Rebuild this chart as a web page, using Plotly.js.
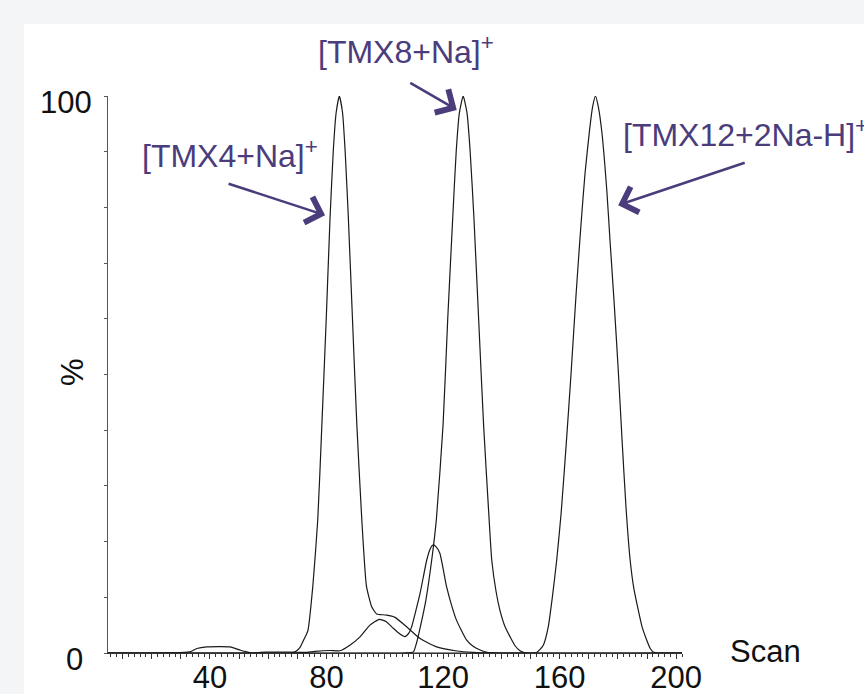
<!DOCTYPE html>
<html>
<head>
<meta charset="utf-8">
<script src="https://cdn.plot.ly/plotly-3.0.1.min.js"></script>
<style>
  html, body { margin: 0; padding: 0; background: #f4f5f7; }
  #chart { width: 864px; height: 694px; }
</style>
</head>
<body>
<div id="chart"></div>
<script>
// ---- data (Scan vs %) ----
const tmx4Scan = [5, 33.1, 35.5, 38.9, 46.9, 50.5, 52.6, 54.0, 67.5, 69.5, 70.9, 72.3, 73.6, 75.3, 77.0, 78.4, 79.9, 81.2, 82.3, 83.3, 84.4, 85.5, 86.4, 87.5, 88.9, 90.4, 92.1, 93.7, 95.5, 97.2, 98.3, 100.6, 103.5, 107.5, 112.1, 117.8, 124.7, 130.3, 136.0, 202];
const tmx4Pct  = [0, 0.2, 0.8, 1.1, 1.1, 0.5, 0.2, 0, 0, 0.3, 1, 2.5, 4, 12, 24, 41, 60, 78, 90, 97, 100, 97, 90, 78, 60, 41, 24, 12, 8.3, 7.0, 6.9, 6.8, 6.4, 4.7, 2.6, 1.1, 0.36, 0.1, 0, 0];

const minorScan = [5, 53.7, 58.9, 67.5, 72.6, 76.0, 81.2, 84.6, 88.0, 91.5, 94.9, 98.1, 100.4, 102.9, 105.2, 106.9, 108.3, 109.2, 110.7, 112.1, 114.4, 115.5, 116.6, 117.7, 118.9, 121.2, 122.9, 124.6, 128.1, 130.3, 132.7, 135.1, 139.5, 202];
const minorPct  = [0, 0, 0.15, 0.15, 0.1, 0.3, 0.45, 0.4, 1.4, 2.9, 5.0, 6.05, 5.65, 4.43, 3.4, 2.93, 3.6, 4.7, 7.7, 10.7, 16.7, 18.6, 19.4, 19.0, 17.9, 11.9, 8.6, 5.9, 2.3, 1.2, 0.54, 0.1, 0, 0];

const tmx8Scan = [5, 106.9, 109.8, 110.9, 112.7, 114.1, 116.1, 117.7, 120.0, 121.6, 123.3, 124.5, 125.6, 126.9, 128.2, 129.3, 130.6, 132.2, 133.9, 135.8, 136.7, 138.2, 139.5, 141.2, 143.0, 144.7, 146.4, 148.5, 202];
const tmx8Pct  = [0, 0, 0.2, 1.8, 5.9, 9.5, 16.7, 24, 41, 60, 78, 90, 97, 100, 97, 90, 78, 60, 41, 24, 16.7, 11, 7.7, 4.8, 2.9, 1.3, 0.4, 0, 0];

const tmx12Scan = [5, 149.8, 152.1, 153.2, 154.4, 156.1, 157.5, 159.0, 160.5, 162.2, 163.9, 165.6, 167.2, 168.7, 170.3, 171.3, 172.3, 173.3, 174.5, 176.2, 177.3, 178.7, 180.1, 181.4, 182.8, 184.2, 185.5, 187.0, 188.4, 189.9, 191.0, 192.1, 193.7, 202];
const tmx12Pct  = [0, 0, 0.1, 0.6, 1.4, 4.7, 10, 16.7, 25, 37, 50, 64, 76, 86, 94, 98, 100, 98, 93.5, 83, 74, 63, 51, 38.5, 26, 16.7, 11.5, 7.7, 4.5, 2.3, 0.9, 0.2, 0, 0];

// ---- tick labels ----
const xTickVals = [10, 20, 30, 40, 50, 60, 70, 80, 90, 100, 110, 120, 130, 140, 150, 160, 170, 180, 190, 200];
const xTickText = ['', '', '', '40', '', '', '', '80', '', '', '', '120', '', '', '', '160', '', '', '', '200'];
const yTickVals = [0, 10, 20, 30, 40, 50, 60, 70, 80, 90, 100];
const yTickText = ['0\u00a0', '', '', '', '', '', '', '', '', '', '100'];

// ---- labels ----
const ionLabels = ['[TMX4+Na]<sup>+</sup>', '[TMX8+Na]<sup>+</sup>', '[TMX12+2Na-H]<sup>+</sup>'];
const xTitle = 'Scan';
const yTitle = '%';

const FONT = 'Liberation Sans, Arial, Helvetica, sans-serif';
const PURPLE = '#4b3c7c';
const lineStyle = { color: '#1a1a1a', width: 1.2, shape: 'spline', smoothing: 0.5 };

const series = [[tmx4Scan, tmx4Pct], [minorScan, minorPct], [tmx8Scan, tmx8Pct], [tmx12Scan, tmx12Pct]];
const traces = series.map(s => ({
  type: 'scatter', mode: 'lines', x: s[0], y: s[1],
  line: lineStyle, showlegend: false, hoverinfo: 'x+y'
}));

const L = 108, R = 682, T = 96, B = 653;
const px = v => (v - L) / (R - L);   // pixel x -> paper x
const py = v => (B - v) / (B - T);   // pixel y -> paper y

const layout = {
  width: 864, height: 694,
  margin: { l: L, r: 864 - R, t: T, b: 694 - B, pad: 0 },
  paper_bgcolor: '#f4f5f7',
  plot_bgcolor: '#ffffff',
  font: { family: FONT, color: '#111', size: 31 },
  showlegend: false,
  xaxis: {
    range: [5, 202], showgrid: false, zeroline: false,
    showline: true, linecolor: '#333', linewidth: 1,
    ticks: 'outside', ticklen: 5, tickwidth: 1, tickcolor: '#333',
    tickmode: 'array', tickvals: xTickVals, ticktext: xTickText,
    tickfont: { family: FONT, size: 31, color: '#111' },
    ticklabelstandoff: -8,
    minor: { tickmode: 'linear', tick0: 0, dtick: 2, ticks: 'outside', ticklen: 3, tickwidth: 1, tickcolor: '#333', showgrid: false }
  },
  yaxis: {
    range: [0, 100], showgrid: false, zeroline: false,
    showline: true, linecolor: '#555', linewidth: 1,
    ticks: 'outside', ticklen: 3, tickwidth: 1, tickcolor: '#555',
    tickmode: 'array', tickvals: yTickVals, ticktext: yTickText,
    tickfont: { family: FONT, size: 31, color: '#111' },
    ticklabelstandoff: 6, ticklabelshift: 6
  },
  shapes: [{
    type: 'rect', xref: 'paper', yref: 'paper', layer: 'below',
    x0: px(24), x1: px(880), y0: py(710), y1: py(24),
    fillcolor: '#ffffff', line: { width: 0 }
  }],
  annotations: [
    { x: px(140), y: py(154), xref: 'paper', yref: 'paper', text: ionLabels[0], showarrow: false, xanchor: 'left', yanchor: 'middle', font: { family: FONT, size: 32, color: PURPLE } },
    { x: px(316), y: py(50), xref: 'paper', yref: 'paper', text: ionLabels[1], showarrow: false, xanchor: 'left', yanchor: 'middle', font: { family: FONT, size: 32, color: PURPLE } },
    { x: px(621), y: py(133), xref: 'paper', yref: 'paper', text: ionLabels[2], showarrow: false, xanchor: 'left', yanchor: 'middle', font: { family: FONT, size: 32, color: PURPLE } },
    { x: 79.5, y: 78.6, xref: 'x', yref: 'y', text: '', showarrow: true, ax: -98, ay: -32, arrowhead: 4, arrowsize: 2.0, arrowwidth: 2.6, arrowcolor: PURPLE, standoff: 0 },
    { x: 124.7, y: 97.5, xref: 'x', yref: 'y', text: '', showarrow: true, ax: -48, ay: -28, arrowhead: 4, arrowsize: 2.0, arrowwidth: 2.6, arrowcolor: PURPLE, standoff: 0 },
    { x: 180.1, y: 80.4, xref: 'x', yref: 'y', text: '', showarrow: true, ax: 128, ay: -43, arrowhead: 4, arrowsize: 2.0, arrowwidth: 2.6, arrowcolor: PURPLE, standoff: 0 },
    { x: px(728), y: py(651), xref: 'paper', yref: 'paper', text: xTitle, showarrow: false, xanchor: 'left', yanchor: 'middle', font: { family: FONT, size: 31, color: '#111' } },
    { x: px(72), y: py(372), xref: 'paper', yref: 'paper', text: yTitle, textangle: -90, showarrow: false, xanchor: 'center', yanchor: 'middle', font: { family: FONT, size: 31, color: '#111' } }
  ]
};

Plotly.newPlot('chart', traces, layout, { displayModeBar: false, staticPlot: true });
</script>
</body>
</html>
